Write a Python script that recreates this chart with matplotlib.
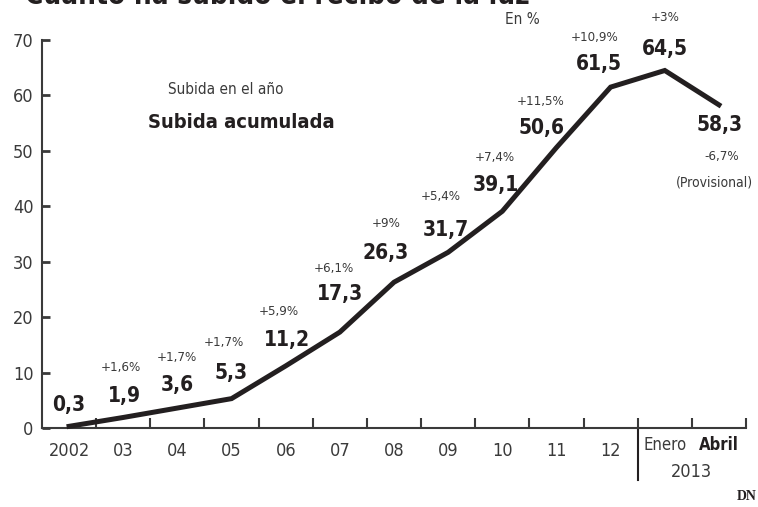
import matplotlib
matplotlib.use("Agg")
import matplotlib.pyplot as plt

# datos: subida acumulada del recibo de la luz (%)
periods = ["2002", "03", "04", "05", "06", "07", "08", "09", "10", "11", "12", "Enero", "Abril"]
cumulative = [0.3, 1.9, 3.6, 5.3, 11.2, 17.3, 26.3, 31.7, 39.1, 50.6, 61.5, 64.5, 58.3]
cum_labels = ["0,3", "1,9", "3,6", "5,3", "11,2", "17,3", "26,3", "31,7", "39,1",
              "50,6", "61,5", "64,5", "58,3"]
yearly_labels = ["", "+1,6%", "+1,7%", "+1,7%", "+5,9%", "+6,1%", "+9%", "+5,4%",
                 "+7,4%", "+11,5%", "+10,9%", "+3%", "-6,7%"]
yticks = [0, 10, 20, 30, 40, 50, 60, 70]

# label offsets in pixels (value label, yearly label)
val_off = [(0, 21), (1, 21), (0, 23), (0, 26), (1, 26), (0, 38), (-8, 29), (-2, 22),
           (-6, 26), (-15, 20), (-12, 23), (0, 21), (1, -20)]
pct_off = [(0, 0), (-2, 50), (-1, 51), (-8, 56), (-7, 54), (-6, 64), (-8, 59), (-7, 56),
           (-7, 54), (-16, 46), (-16, 50), (0, 53), (3, -52)]

FONT = "DejaVu Sans"
COND = "condensed"
INK = "#231f20"
GREY = "#3a3a3a"

fig = plt.figure(figsize=(7.58, 5.07), dpi=100)
ax = fig.add_axes([42 / 758, 1 - 428 / 507, (746 - 42) / 758, (428 - 40) / 507])

x = list(range(len(periods)))
ax.plot(x, cumulative, color=INK, lw=3.6, solid_joinstyle="miter", zorder=3, clip_on=False)

ax.set_xlim(-0.5, 12.5)
ax.set_ylim(0, 70)
for s in ["top", "right"]:
    ax.spines[s].set_visible(False)
for s in ["left", "bottom"]:
    ax.spines[s].set_color(GREY)
    ax.spines[s].set_linewidth(1.5)

ax.set_yticks(yticks)
ax.set_yticklabels([str(t) for t in yticks], fontsize=13, color=GREY,
                   family=FONT, stretch=COND)
ax.tick_params(axis="y", direction="in", length=6, width=2, color=GREY, pad=6)

ax.set_xticks([i + 0.5 for i in range(len(periods))])
ax.set_xticklabels([])
ax.tick_params(axis="x", direction="in", length=7, width=1.5, color=GREY)

for i, p in enumerate(periods[:11]):
    ax.text(i, -0.06, p, transform=ax.get_xaxis_transform(), ha="center", va="center",
            fontsize=13, color=GREY, family=FONT, stretch=COND)
ax.text(11, -0.043, periods[11], transform=ax.get_xaxis_transform(), ha="center",
        va="center", fontsize=12, color=GREY, family=FONT, stretch=COND)
ax.text(12, -0.043, periods[12], transform=ax.get_xaxis_transform(), ha="center",
        va="center", fontsize=12, color=INK, family=FONT, stretch=COND, weight="bold")
ax.text(11.5, -0.113, "2013", transform=ax.get_xaxis_transform(), ha="center",
        va="center", fontsize=13, color=GREY, family=FONT, stretch=COND)
ax.plot([10.5, 10.5], [0, -(480 - 428) / 388], transform=ax.get_xaxis_transform(),
        color=INK, lw=1.5, clip_on=False)

for i, v in enumerate(cumulative):
    ax.annotate(cum_labels[i], (i, v), xytext=val_off[i], textcoords="offset pixels",
                ha="center", va="center", fontsize=15, weight="bold", color=INK,
                family=FONT, stretch=COND)
    if yearly_labels[i]:
        ax.annotate(yearly_labels[i], (i, v), xytext=pct_off[i], textcoords="offset pixels",
                    ha="center", va="center", fontsize=9.5, color=GREY,
                    family=FONT, stretch=COND)
ax.annotate("(Provisional)", (12, cumulative[12]), xytext=(-4, -78),
            textcoords="offset pixels", ha="center", va="center", fontsize=10,
            color=GREY, family=FONT, stretch=COND)

# leyenda
fig.text(226 / 758, 1 - 89 / 507, "Subida en el año", ha="center", va="center",
         fontsize=11, color=GREY, family=FONT, stretch=COND)
fig.text(241 / 758, 1 - 122 / 507, "Subida acumulada", ha="center", va="center",
         fontsize=14.5, weight="bold", color=INK, family=FONT, stretch=COND)
fig.text(522 / 758, 1 - 20 / 507, "En %", ha="center", va="center",
         fontsize=11, color=GREY, family=FONT, stretch=COND)

# titulo (cortado arriba en el original)
fig.text(25 / 758, 1 - 4 / 507, "Cuánto ha subido el recibo de la luz", ha="left",
         va="baseline", fontsize=20, weight="bold", color=INK, family=FONT, stretch=COND)

fig.text(757 / 758, 1 - 497 / 507, "DN", ha="right", va="center", fontsize=10,
         weight="bold", color=INK, family="Liberation Serif")

fig.savefig("out.png", dpi=100)
